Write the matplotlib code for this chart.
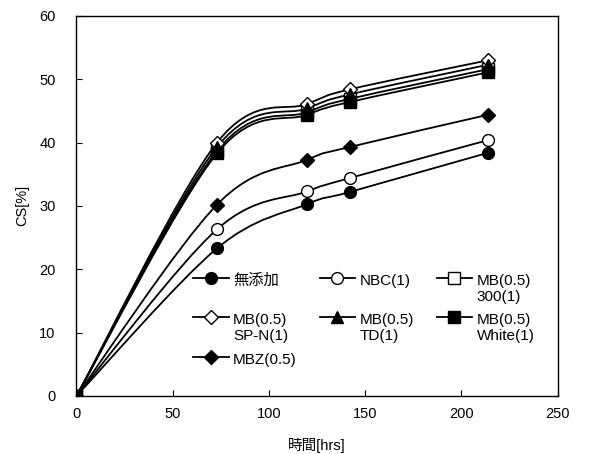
import numpy as np
import matplotlib
matplotlib.use('Agg')
import matplotlib.pyplot as plt
from matplotlib.path import Path
from matplotlib.patches import PathPatch
from matplotlib.lines import Line2D
from matplotlib.legend_handler import HandlerLine2D

plt.rcParams['font.family'] = ['Liberation Sans', 'Noto Sans CJK JP']

hours = [0, 73, 120, 142, 214]

mutenka = [0, 23.3, 30.3, 32.2, 38.4]
nbc = [0, 26.3, 32.3, 34.4, 40.4]
mb_300 = [0, 38.7, 44.8, 46.9, 51.6]
mb_spn = [0, 40.0, 46.1, 48.4, 53.0]
mb_td = [0, 39.3, 45.4, 47.6, 52.3]
mb_white = [0, 38.3, 44.4, 46.4, 51.1]
mbz = [0, 30.2, 37.3, 39.3, 44.4]

series = [
    ('無添加', mutenka, 'o', 'black', 8.5),
    ('NBC(1)', nbc, 'o', 'white', 8.5),
    ('MB(0.5)\n300(1)', mb_300, 's', 'white', 8),
    ('MB(0.5)\nSP-N(1)', mb_spn, 'D', 'white', 7),
    ('MB(0.5)\nTD(1)', mb_td, '^', 'black', 8.5),
    ('MB(0.5)\nWhite(1)', mb_white, 's', 'black', 8),
    ('MBZ(0.5)', mbz, 'D', 'black', 7),
]
FS = 10.5
LFS = 11


def smooth_path(x, y):
    # Excel-like smoothed line: Catmull-Rom turned into cubic beziers
    pts = np.column_stack([x, y]).astype(float)
    n = len(pts)
    verts = [pts[0]]
    codes = [Path.MOVETO]
    for i in range(n - 1):
        p0 = pts[max(i - 1, 0)]
        p1 = pts[i]
        p2 = pts[i + 1]
        p3 = pts[min(i + 2, n - 1)]
        verts += [p1 + (p2 - p0) / 6, p2 - (p3 - p1) / 6, p2]
        codes += [Path.CURVE4] * 3
    return Path(verts, codes)


class FirstLineHandler(HandlerLine2D):
    # put the legend sample next to the first line of a two-line label
    def __init__(self, dy, **kw):
        super().__init__(**kw)
        self.dy = dy

    def create_artists(self, legend, orig_handle, xdescent, ydescent,
                       width, height, fontsize, trans):
        arts = super().create_artists(legend, orig_handle, xdescent, ydescent,
                                      width, height, fontsize, trans)
        for a in arts:
            a.set_ydata(np.asarray(a.get_ydata(), float) + self.dy)
        return arts


fig = plt.figure(figsize=(5.93, 4.54), dpi=100)
ax = fig.add_axes([0.129, 0.128, 0.8115, 0.837])

handles = []
for label, vals, marker, face, ms in series:
    ax.add_patch(PathPatch(smooth_path(hours, vals), facecolor='none',
                           edgecolor='black', lw=1.3, zorder=2))
    ax.plot(hours, vals, ls='none', marker=marker, ms=ms, mfc=face,
            mec='black', mew=1.0, zorder=3)
    handles.append(Line2D([], [], color='black', lw=1.3, marker=marker,
                          ms=ms, mfc=face, mec='black', mew=1.0))

ax.set_xlim(0, 250)
ax.set_ylim(0, 60)
ax.set_xticks(np.arange(0, 251, 50))
ax.set_yticks(np.arange(0, 61, 10))
ax.tick_params(direction='in', length=4, labelsize=FS, top=False, right=False)
ax.tick_params(axis='y', pad=15)
ax.tick_params(axis='x', pad=8)
ax.set_xlabel('時間[hrs]', fontsize=FS, labelpad=12)
ax.set_ylabel('CS[%]', fontsize=FS, labelpad=7)
for s in ax.spines.values():
    s.set_linewidth(1.0)

labels = [s[0] for s in series]
pad_labels = [l if '\n' in l else l + '\n' for l in labels]
order = [0, 3, 6, 1, 4, 2, 5]
hmap = {h: FirstLineHandler(0.72 * LFS) for h in handles}
ax.legend([handles[i] for i in order], [pad_labels[i] for i in order],
          ncol=3, loc='upper left', bbox_to_anchor=(0.243, 0.322),
          frameon=False, fontsize=LFS, handlelength=2.3, handletextpad=0.3,
          columnspacing=1.5, labelspacing=0.6, borderpad=0, borderaxespad=0,
          handler_map=hmap)

fig.savefig('out.png', dpi=100)
